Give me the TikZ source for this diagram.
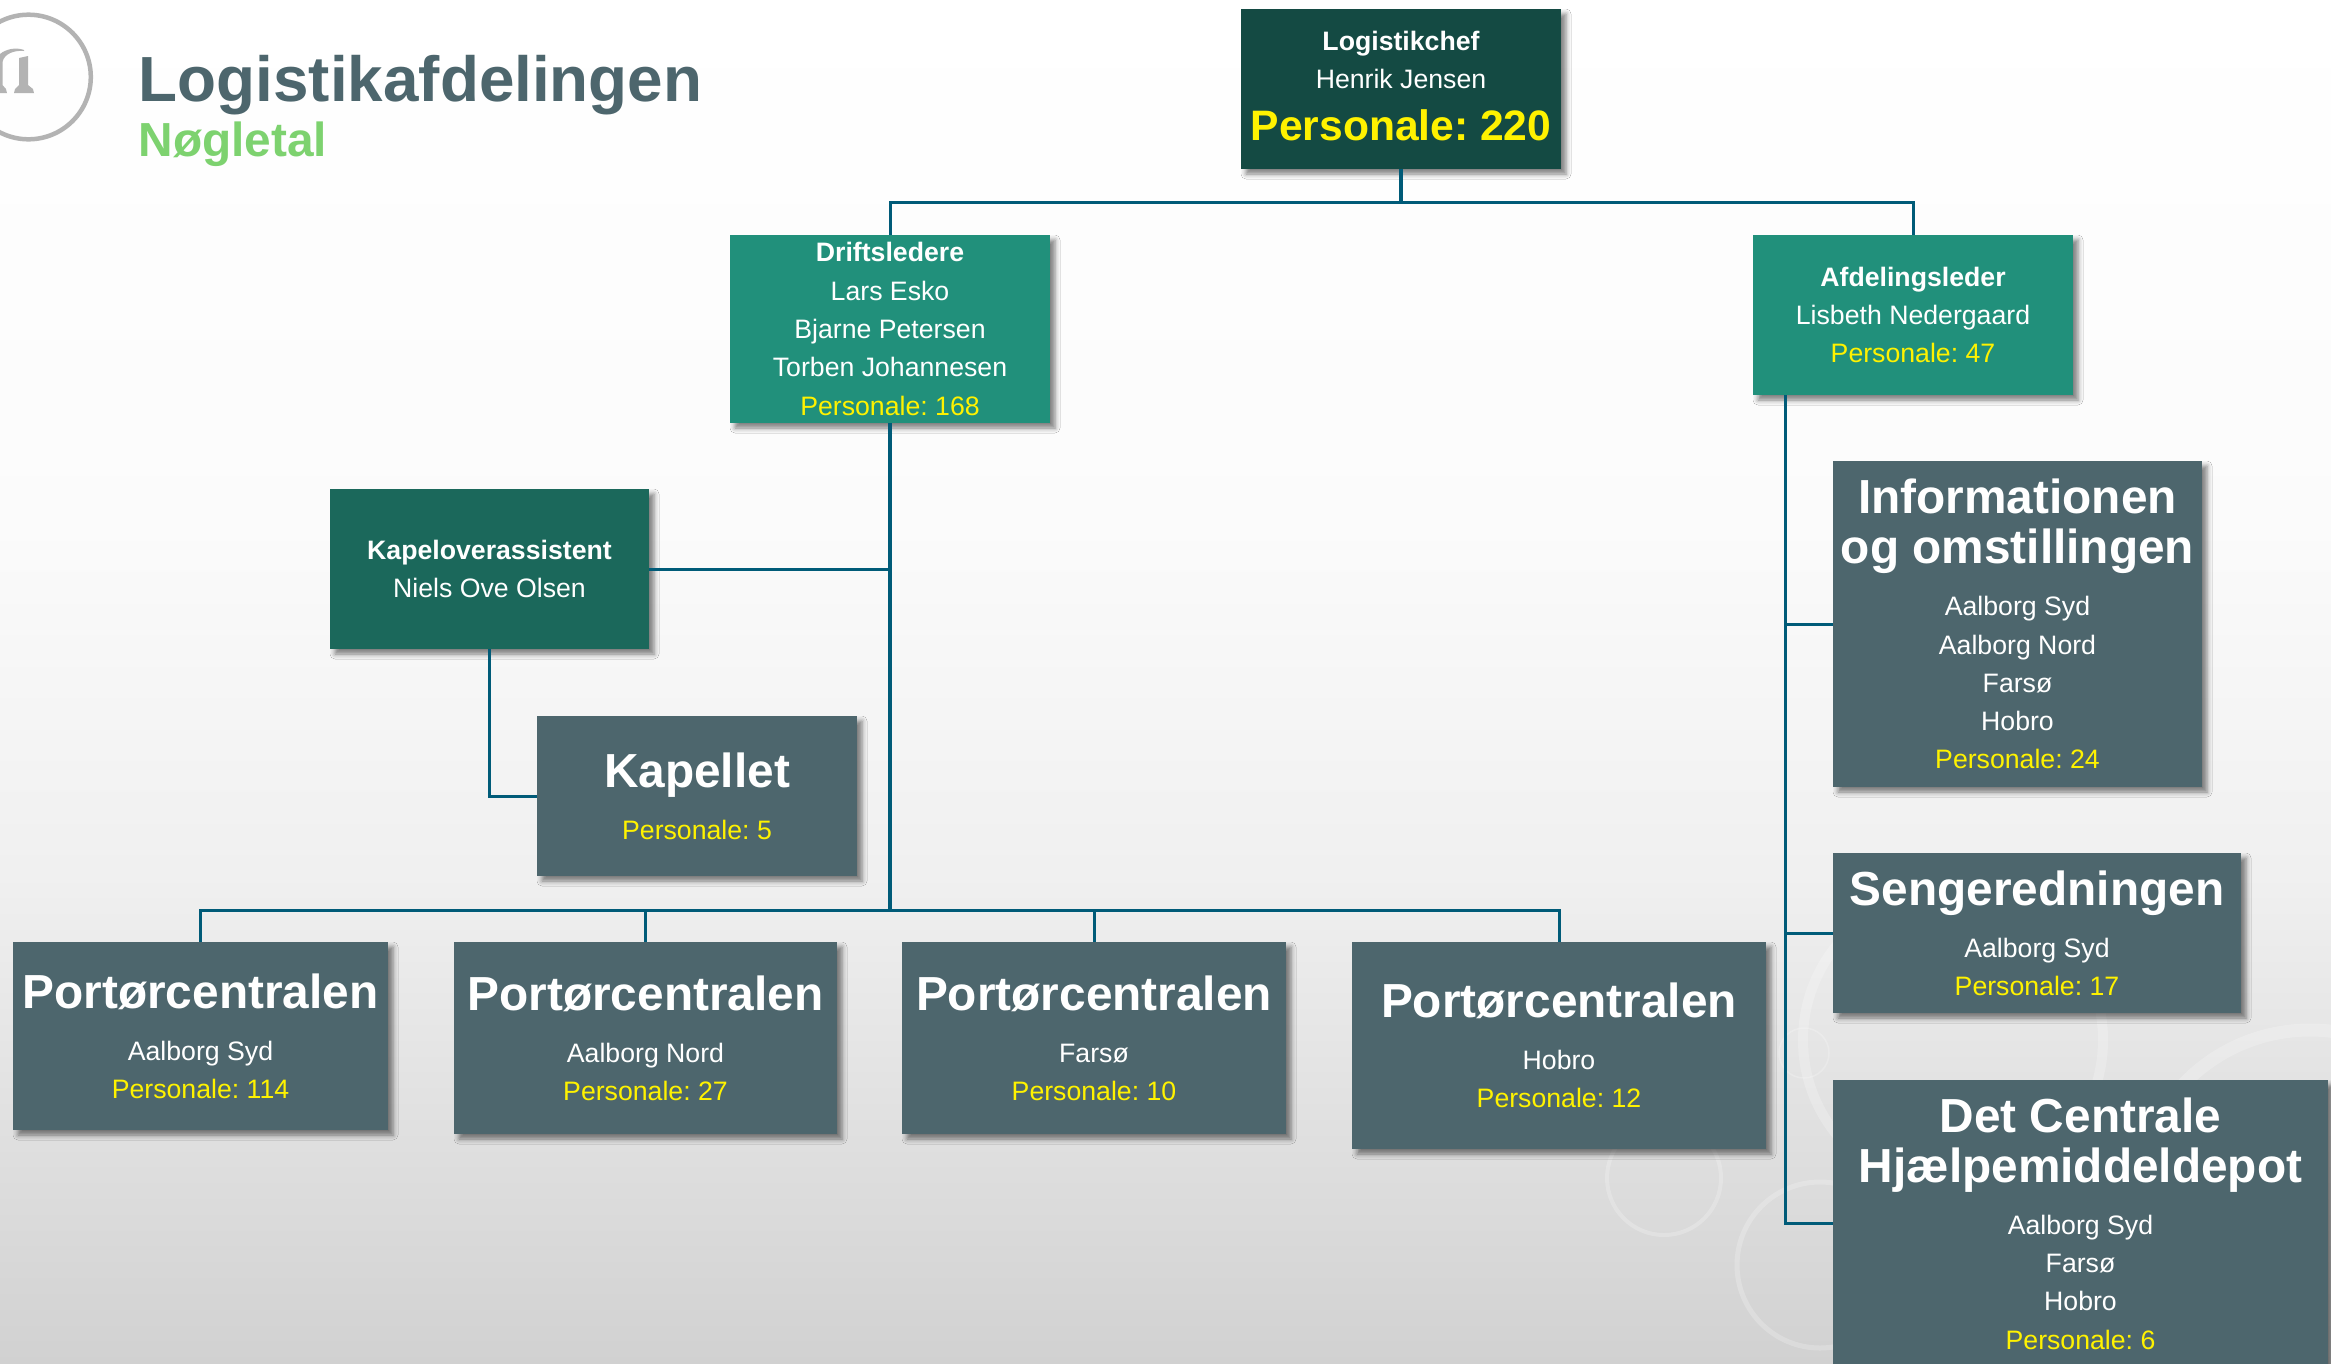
\documentclass[tikz,border=0pt]{standalone}
\usepackage{fontspec}
\setmainfont{Liberation Sans}
\usepackage{xcolor}
\usetikzlibrary{shadows.blur}
\definecolor{chefgreen}{HTML}{144A43}
\definecolor{driftgreen}{HTML}{21907B}
\definecolor{kapgreen}{HTML}{1B685B}
\definecolor{unitgrey}{HTML}{4D666D}
\definecolor{linkblue}{HTML}{005B78}
\definecolor{keygreen}{HTML}{7DD26F}
\definecolor{logogrey}{HTML}{B3B3B3}
\lineskiplimit=-100pt
\frenchspacing
\newcommand{\unithead}[1]{{\fontsize{47.8}{38.3}\selectfont\bfseries #1}}
\newcommand{\leadhead}[1]{{\bfseries #1}}
\newcommand{\staffnum}[1]{\textcolor{yellow}{Personale: #1}}
\tikzset{
	orgbox/.style={inner sep=0pt, align=center, text=white, font=\fontsize{26.67}{38.3}\selectfont,
		blur shadow={shadow xshift=5pt, shadow yshift=-5pt, shadow blur radius=5pt, shadow opacity=50}},
	unitbox/.style={orgbox, fill=unitgrey, text depth=-5pt},
	orgline/.style={draw=linkblue, line width=3pt},
	trunkline/.style={draw=linkblue, line width=3.6pt},
	ring/.style={draw=white, draw opacity=.22},
}
\begin{document}
\begin{tikzpicture}[x=1pt, y=-1pt]
	\useasboundingbox (0,0) rectangle (2331,1363);
	\clip (0,0) rectangle (2331,1363);
	\shade [top color=white, bottom color=black!1.5] (0,0) rectangle (2331,520);
	\shade [top color=black!1.5, bottom color=black!6] (0,519) rectangle (2331,880);
	\shade [top color=black!6, bottom color=black!18] (0,879) rectangle (2331,1363);

	\draw [ring, line width=4pt] (1664,1178) circle (57);
	\draw [ring, line width=5pt] (1820,1265) circle (83);
	\draw [ring, line width=1.5pt] (1804,1053) circle (25);
	\draw [ring, line width=10pt] (1953,1040) circle (150);
	\draw [ring, line width=13pt] (2310,1205) circle (175);

	\draw [draw=logogrey, line width=4.5pt] (28.5,77) circle (62.3);
	\fill [logogrey] (0,54) .. controls (6,49) and (16,47) .. (24,50) -- (24,51) .. controls (14,50) and (4,54) .. (2.5,62) -- (2.5,85) -- (6,89) -- (7,93) -- (0,93) -- cycle;
	\fill [logogrey] (19,58) -- (28,56) -- (28,85) -- (33,89) -- (34,93) -- (14,93) -- (15,89) -- (19,85) -- cycle;

	\node (title) [anchor=base west, inner sep=0pt, text=unitgrey, font=\fontsize{63.8}{70}\selectfont\bfseries] at (138.5,101) {Logistikafdelingen};
	\node (subtitle) [anchor=base west, inner sep=0pt, text=keygreen, font=\fontsize{47.8}{50}\selectfont\bfseries] at (138.5,156) {Nøgletal};

	\node (chef) [orgbox, fill=chefgreen, minimum width=320pt, minimum height=160pt, text depth=6pt] at (1401,89) {
		\leadhead{Logistikchef}\\
		Henrik Jensen\\[13.7pt]
		\textcolor{yellow}{\fontsize{42.6}{38.3}\selectfont\bfseries Personale: 220}
	};
	\node (drift) [orgbox, fill=driftgreen, minimum width=320pt, minimum height=188pt] at (890,329) {
		\leadhead{Driftsledere}\\
		Lars Esko\\
		Bjarne Petersen\\
		Torben Johannesen\\
		\staffnum{168}
	};
	\node (afd) [orgbox, fill=driftgreen, minimum width=320pt, minimum height=160pt] at (1913,315) {
		\leadhead{Afdelingsleder}\\
		Lisbeth Nedergaard\\
		\staffnum{47}
	};
	\node (kap) [orgbox, fill=kapgreen, minimum width=319pt, minimum height=160pt] at (489.5,569) {
		\leadhead{Kapeloverassistent}\\
		Niels Ove Olsen
	};
	\node (kapellet) [unitbox, minimum width=320pt, minimum height=160pt] at (697,796) {
		\unithead{Kapellet}\\[13.7pt]
		\staffnum{5}
	};
	\node (port1) [unitbox, minimum width=375pt, minimum height=188pt] at (200.5,1036) {
		\unithead{Portørcentralen}\\[13.7pt]
		Aalborg Syd\\
		\staffnum{114}
	};
	\node (port2) [unitbox, minimum width=383pt, minimum height=192pt] at (645.5,1038) {
		\unithead{Portørcentralen}\\[13.7pt]
		Aalborg Nord\\
		\staffnum{27}
	};
	\node (port3) [unitbox, minimum width=384pt, minimum height=192pt] at (1094,1038) {
		\unithead{Portørcentralen}\\[13.7pt]
		Farsø\\
		\staffnum{10}
	};
	\node (port4) [unitbox, minimum width=414pt, minimum height=207pt] at (1559,1045.5) {
		\unithead{Portørcentralen}\\[13.7pt]
		Hobro\\
		\staffnum{12}
	};
	\node (info) [unitbox, minimum width=369pt, minimum height=326pt] at (2017.5,624) {
		\unithead{Informationen}\\[11.7pt]
		\unithead{og omstillingen}\\[13.7pt]
		Aalborg Syd\\
		Aalborg Nord\\
		Farsø\\
		Hobro\\
		\staffnum{24}
	};
	\node (seng) [unitbox, minimum width=408pt, minimum height=160pt] at (2037,933) {
		\unithead{Sengeredningen}\\[13.7pt]
		Aalborg Syd\\
		\staffnum{17}
	};
	\node (det) [unitbox, minimum width=495pt, minimum height=287pt] at (2080.5,1223.5) {
		\unithead{Det Centrale}\\[11.7pt]
		\unithead{Hjælpemiddeldepot}\\[13.7pt]
		Aalborg Syd\\
		Farsø\\
		Hobro\\
		\staffnum{6}
	};

	\coordinate (topbar) at (1401,202);
	\coordinate (portbar) at (890,910);
	\coordinate (afdleg) at (1785,395);

	\draw [trunkline] (chef.south) -- (topbar);
	\draw [orgline] (drift.north) |- (topbar) -| (afd.north);
	\draw [trunkline] (drift.south) -- (portbar);
	\draw [orgline] (kap.east) -- (kap.east -| drift.south);
	\draw [orgline] (kap.south) |- (kapellet.west);
	\draw [orgline] (port1.north) |- (portbar);
	\draw [orgline] (port2.north) |- (portbar);
	\draw [orgline] (port3.north) |- (portbar);
	\draw [orgline] (port4.north) |- (portbar);
	\draw [orgline] (afdleg) |- (info.west);
	\draw [orgline] (afdleg) |- (seng.west);
	\draw [orgline] (afdleg) |- (det.west);
\end{tikzpicture}
\end{document}
